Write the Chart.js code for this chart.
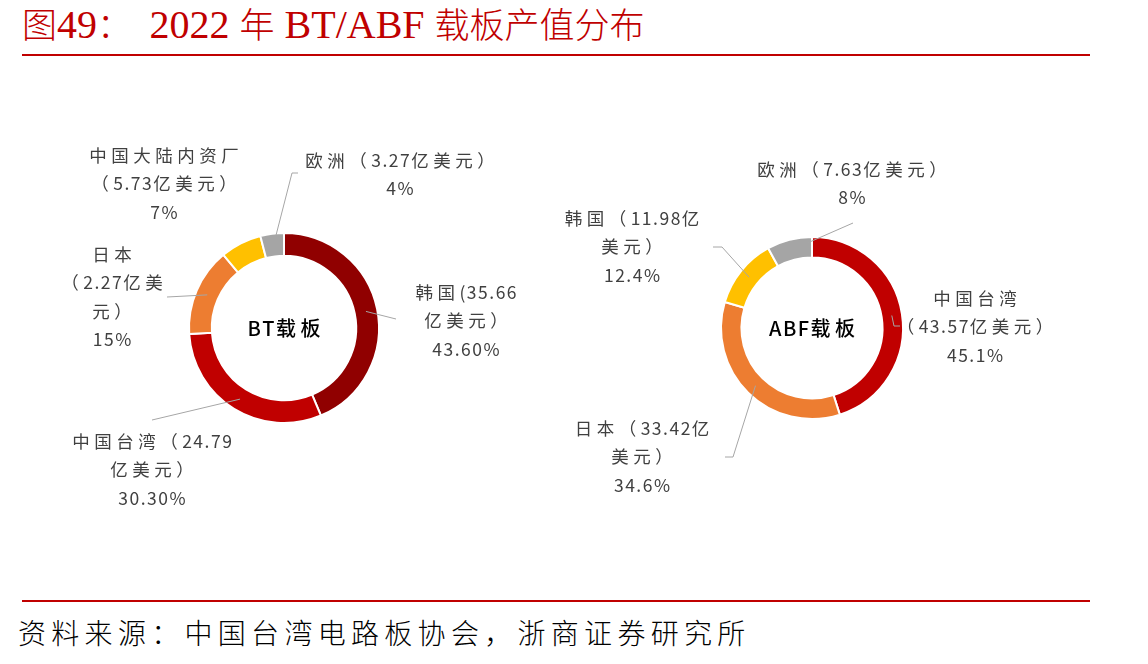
<!DOCTYPE html>
<html>
<head>
<meta charset="utf-8">
<script src="https://cdn.jsdelivr.net/npm/chart.js@4/dist/chart.umd.min.js"></script>
<style>
    body { margin: 0; background: #fff; width: 1148px; height: 664px; position: relative; overflow: hidden; }
    #title { position: absolute; left: 22px; top: 0px; color: #C00000; font-family: "Liberation Serif", "Noto Sans CJK SC", serif; font-size: 40px; line-height: 50px; font-weight: 300; white-space: pre; }
    #title .cjk { font-size: 35px; }
    .rule { position: absolute; left: 22px; width: 1068px; height: 2px; background: #C00000; }
    #source { position: absolute; left: 18px; top: 612px; font-family: "Noto Sans CJK SC", serif; font-weight: 300; font-size: 28px; letter-spacing: 5.3px; color: #000; }
    canvas { position: absolute; }
</style>
</head>
<body>
<div id="title"><span class="cjk">图</span>49<span class="cjk">：  </span>2022 <span class="cjk">年</span> BT/ABF <span class="cjk">载板产值分布</span></div>
<div class="rule" style="top: 54px;"></div>
<div class="rule" style="top: 600px;"></div>
<div id="source">资料来源：中国台湾电路板协会，浙商证券研究所</div>
<canvas id="btChart" width="560" height="440"></canvas>
<canvas id="abfChart" width="560" height="440"></canvas>
<script>
// BT 载板
const btCategories = ['韩国', '中国台湾', '日本', '中国大陆内资厂', '欧洲'];
const btShares = [43.6, 30.3, 15, 7, 4];
const btLabelText = [
    ['韩国(35.66', '亿美元）', '43.60%'],
    ['中国台湾（24.79', '亿美元）', '30.30%'],
    ['日本', '（2.27亿美', '元）', '15%'],
    ['中国大陆内资厂', '（5.73亿美元）', '7%'],
    ['欧洲（3.27亿美元）', '4%']
];
const btColors = ['#900000', '#C00000', '#ED7D31', '#FFC000', '#A5A5A5'];

// ABF 载板
const abfCategories = ['中国台湾', '日本', '韩国', '欧洲'];
const abfShares = [45.1, 34.6, 12.4, 8];
const abfLabelText = [
    ['中国台湾', '（43.57亿美元）', '45.1%'],
    ['日本（33.42亿', '美元）', '34.6%'],
    ['韩国（11.98亿', '美元）', '12.4%'],
    ['欧洲（7.63亿美元）', '8%']
];
const abfColors = ['#C00000', '#ED7D31', '#FFC000', '#A5A5A5'];

// label anchors relative to the doughnut centre: text centre + first line, leader elbows
const btLayout = [
    { dx: 182, dy: -36, leader: [[112, -9]] },
    { dx: -132, dy: 113, leader: [[-132, 92]] },
    { dx: -172, dy: -74, leader: [[-117, -31]] },
    { dx: -120, dy: -173, leader: null },
    { dx: 116, dy: -168, leader: [[8, -155], [14, -155]] }
];
const abfLayout = [
    { dx: 163, dy: -30, leader: [[82, -2], [88, -2]] },
    { dx: -170, dy: 100, leader: [[-79, 129], [-87, 129]] },
    { dx: -180, dy: -110, leader: [[-90, -81], [-99, -81]] },
    { dx: 40, dy: -159, leader: [[41, -105]] }
];

const lineHeight = 28.5;

function isWide(ch) {
    return ch.charCodeAt(0) > 0x2e80;
}

// CJK glyphs in the original are spaced wider than the digits
function drawSpaced(ctx, text, x, y) {
    const chars = Array.from(text);
    const gaps = chars.map(ch => isWide(ch) ? 4.5 : 1.5);
    const widths = chars.map(ch => ctx.measureText(ch).width);
    let total = 0;
    chars.forEach((ch, i) => { total += widths[i] + (i < chars.length - 1 ? gaps[i] : 0); });
    let px = x - total / 2;
    ctx.textAlign = 'left';
    chars.forEach((ch, i) => {
        ctx.fillText(ch, px, y);
        px += widths[i] + gaps[i];
    });
}

function labelPlugin(texts, layout) {
    return {
        id: 'outLabels',
        afterDraw(chart) {
            const ctx = chart.ctx;
            const arcs = chart.getDatasetMeta(0).data;
            ctx.save();
            arcs.forEach((arc, i) => {
                const cx = arc.x, cy = arc.y;
                const l = layout[i];
                if (l.leader) {
                    const p = arc.tooltipPosition();
                    ctx.beginPath();
                    ctx.moveTo(p.x, p.y);
                    l.leader.forEach(pt => ctx.lineTo(cx + pt[0], cy + pt[1]));
                    ctx.strokeStyle = '#A6A6A6';
                    ctx.lineWidth = 1;
                    ctx.stroke();
                }
                ctx.fillStyle = '#404040';
                ctx.font = '17.5px "Noto Sans CJK SC"';
                ctx.textBaseline = 'middle';
                texts[i].forEach((t, k) => {
                    drawSpaced(ctx, t, cx + l.dx, cy + l.dy + k * lineHeight);
                });
            });
            ctx.restore();
        }
    };
}

function centerPlugin(text) {
    return {
        id: 'centerText',
        afterDraw(chart) {
            const arc = chart.getDatasetMeta(0).data[0];
            const ctx = chart.ctx;
            ctx.save();
            ctx.fillStyle = '#000';
            ctx.font = '500 20px "Noto Sans CJK SC"';
            ctx.textBaseline = 'middle';
            drawSpaced(ctx, text, arc.x, arc.y);
            ctx.restore();
        }
    };
}

function makeDonut(id, left, top, categories, shares, colors, radius, cutout, texts, layout, centre) {
    const canvas = document.getElementById(id);
    canvas.style.left = left + 'px';
    canvas.style.top = top + 'px';
    return new Chart(canvas, {
        type: 'doughnut',
        data: {
            labels: categories,
            datasets: [{
                data: shares,
                backgroundColor: colors,
                borderColor: '#fff',
                borderWidth: 2
            }]
        },
        options: {
            responsive: false,
            animation: false,
            radius: radius,
            cutout: cutout,
            layout: { padding: 0 },
            plugins: {
                legend: { display: false },
                tooltip: { enabled: false }
            }
        },
        plugins: [labelPlugin(texts, layout), centerPlugin(centre)]
    });
}

makeDonut('btChart', 284 - 280, 328 - 220, btCategories, btShares, btColors, 95, '76%', btLabelText, btLayout, 'BT载板');
makeDonut('abfChart', 812 - 280, 328 - 220, abfCategories, abfShares, abfColors, 91, '77.5%', abfLabelText, abfLayout, 'ABF载板');
</script>
</body>
</html>
